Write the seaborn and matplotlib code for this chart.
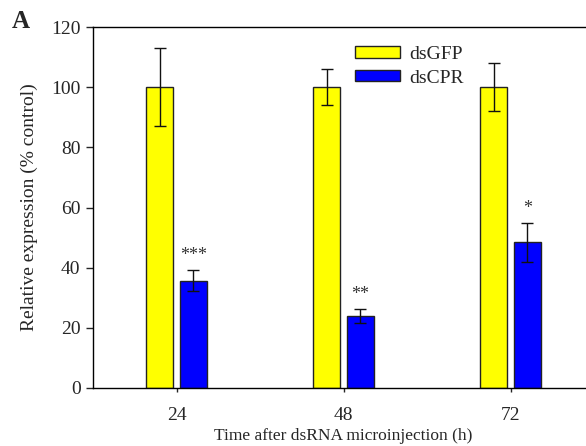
import pandas as pd
import matplotlib
matplotlib.use("Agg")
import matplotlib.pyplot as plt
import seaborn as sns
from matplotlib.patches import Patch

# data
times = ["24", "48", "72"]
groups = ["dsGFP", "dsCPR"]
gfp_mean = [100, 100, 100]
gfp_err = [13, 6, 8]
cpr_mean = [35.7, 24.0, 48.4]
cpr_err = [3.5, 2.4, 6.6]
stars = ["***", "**", "*"]
colors = {"dsGFP": "#FFFF00", "dsCPR": "#0000FF"}

df = pd.DataFrame({
    "time": times * 2,
    "group": [groups[0]] * 3 + [groups[1]] * 3,
    "value": gfp_mean + cpr_mean,
})

sns.set_style("ticks")
plt.rcParams["font.family"] = ["Liberation Serif", "DejaVu Serif"]

fig = plt.figure(figsize=(5.86, 4.46), dpi=100)
ax = fig.add_axes([93 / 586, 1 - 388 / 446, (594 - 93) / 586, (388 - 27) / 446])

sns.barplot(data=df, x="time", y="value", hue="group", palette=colors,
            order=times, hue_order=groups, width=0.4, gap=0.2, saturation=1,
            edgecolor="#222222", linewidth=1.0, errorbar=None,
            legend=False, ax=ax)

errs = [gfp_err, cpr_err]
means = [gfp_mean, cpr_mean]
bar_groups = list(ax.containers)
for i, cont in enumerate(bar_groups):
    xs = [b.get_x() + b.get_width() / 2 for b in cont]
    ax.errorbar(xs, means[i], yerr=errs[i], fmt="none", ecolor="#111111",
                elinewidth=1.0, capsize=4.5, capthick=1.0, zorder=5)
    if i == 1:
        for x, m, e, s in zip(xs, means[i], errs[i], stars):
            ax.text(x, m + e + 2.0, s, ha="center", va="bottom",
                    fontsize=13, color="#333333")

ax.set_xlim(-0.5, 2.5)
ax.set_ylim(0, 120)
ax.set_yticks(range(0, 121, 20))
ax.set_xlabel("Time after dsRNA microinjection (h)", fontsize=12.5, labelpad=3)
ax.set_ylabel("Relative expression (% control)", fontsize=14, labelpad=9)
ax.tick_params(axis="y", labelsize=14, length=5, width=1, direction="out", pad=4)
ax.tick_params(axis="x", labelsize=14, length=3, width=1, direction="out", pad=10.5)
for sp in ["left", "bottom", "top"]:
    ax.spines[sp].set_color("black")
    ax.spines[sp].set_linewidth(1.0)
ax.spines["right"].set_visible(False)

handles = [Patch(facecolor=colors[g], edgecolor="#222222", linewidth=1.0) for g in groups]
ax.legend(handles, groups, loc="upper left", bbox_to_anchor=(0.488, 0.996),
          frameon=False, fontsize=14, handlelength=2.3, handleheight=0.5,
          handletextpad=0.5, labelspacing=0.35)

fig.text(12 / 586, 1 - 22 / 446, "A", fontsize=18, fontweight="bold", va="center")

fig.savefig("out.png", dpi=100)
